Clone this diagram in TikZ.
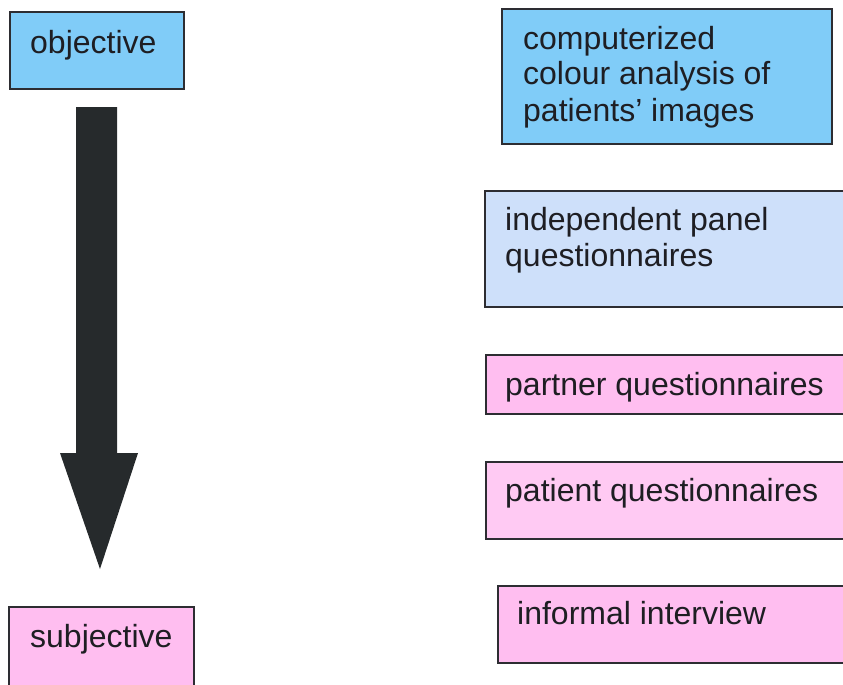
\documentclass[tikz,border=0pt]{standalone}
\usepackage{fontspec}
\setmainfont{Liberation Sans}
\definecolor{objblue}{RGB}{128,204,248}
\definecolor{panelblue}{RGB}{206,224,250}
\definecolor{subjpink}{RGB}{255,190,240}
\definecolor{patpink}{RGB}{255,202,243}
\definecolor{boxline}{RGB}{45,45,50}
\definecolor{arrowcol}{RGB}{38,42,44}
\definecolor{textcol}{RGB}{30,30,35}

\begin{document}
\begin{tikzpicture}[x=1pt, y=-1pt,
    box/.style={draw=boxline, line width=1.6pt, anchor=north west, inner sep=0pt},
    boxtext/.style={anchor=base west, inner sep=0pt, align=left, font=\fontsize{32}{36}\selectfont, text=textcol}]
    \clip (0,0) rectangle (843,685);

    \node[box, fill=objblue, minimum width=174pt, minimum height=77pt] (objective) at (9,11) {};
    \node[box, fill=subjpink, minimum width=185pt, minimum height=90pt] (subjective) at (8,606) {};
    \node[box, fill=objblue, minimum width=330pt, minimum height=135pt] (computer) at (501,8) {};
    \node[box, fill=panelblue, minimum width=362pt, minimum height=116pt] (panel) at (484,190) {};
    \node[box, fill=subjpink, minimum width=362pt, minimum height=59pt] (partner) at (485,354) {};
    \node[box, fill=patpink, minimum width=362pt, minimum height=77pt] (patient) at (485,461) {};
    \node[box, fill=subjpink, minimum width=350pt, minimum height=77pt] (informal) at (497,585) {};

    % text sits on the baseline of its last line
    \node[boxtext] (objtext) at (30,54) {objective};
    \node[boxtext] (subjtext) at (30,647) {subjective};
    \node[boxtext] (computertext) at (523,121) {computerized\\colour analysis of\\patients' images};
    \node[boxtext] (paneltext) at (505,266) {independent panel\\questionnaires};
    \node[boxtext] (partnertext) at (505,395) {partner questionnaires};
    \node[boxtext] (patienttext) at (505,501) {patient questionnaires};
    \node[boxtext] (informaltext) at (517,624) {informal interview};

    % big arrow, objective down to subjective
    \fill[arrowcol] (76,107) -- (117,107) -- (117,453) -- (138,453) -- (100,569) -- (60,453) -- (76,453) -- cycle;
\end{tikzpicture}
\end{document}
